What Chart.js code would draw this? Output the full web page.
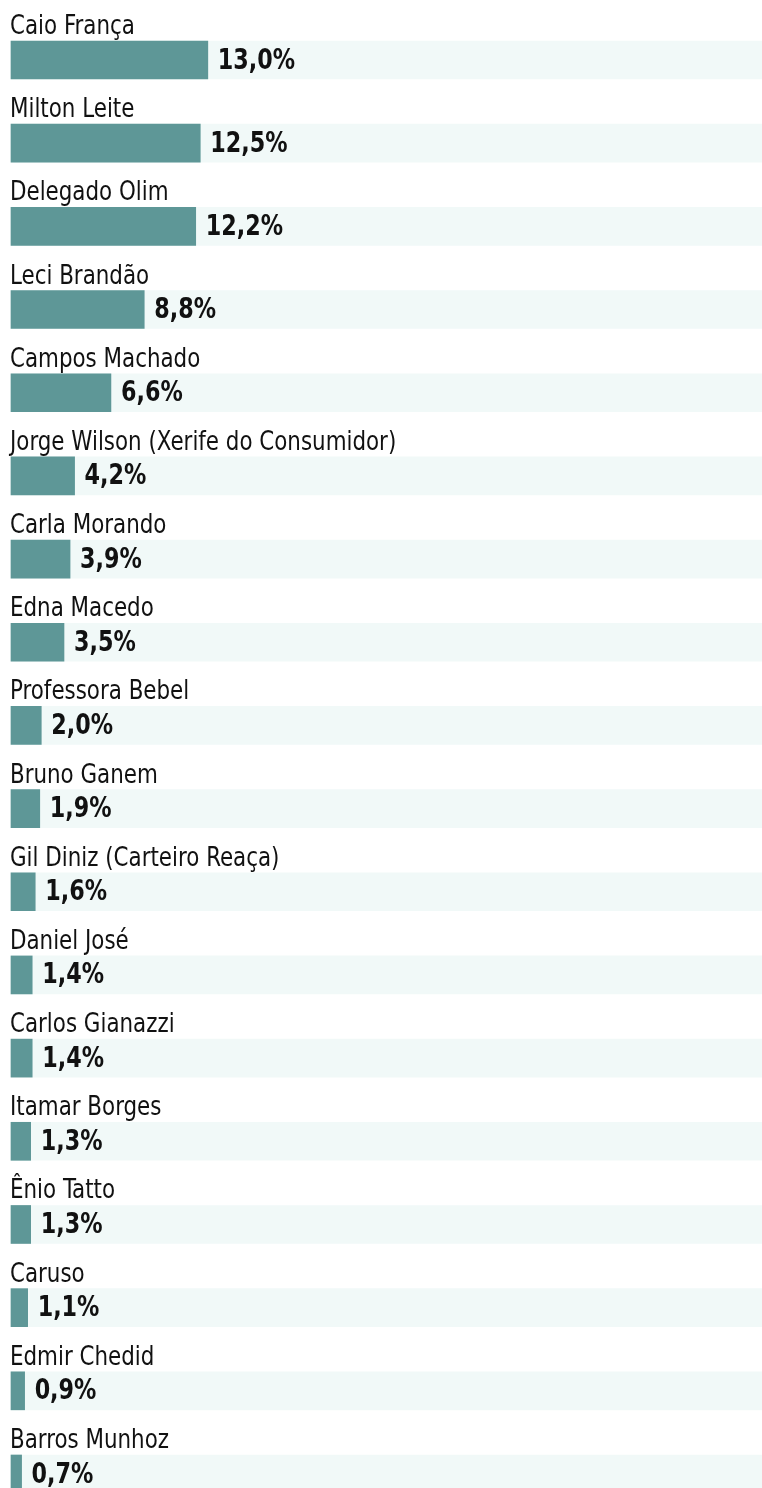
<!DOCTYPE html>
<html>
<head>
<meta charset="utf-8">
<script src="https://cdn.jsdelivr.net/npm/chart.js@4"></script>
<style>
  html, body { margin: 0; padding: 0; background: #fff; overflow: hidden; }
  #wrap { width: 762px; height: 1488px; position: relative; }
</style>
</head>
<body>
<div id="wrap"><canvas id="chart"></canvas></div>
<script>
// candidatos e percentuais
const candidates = [
  "Caio França", "Milton Leite", "Delegado Olim", "Leci Brandão", "Campos Machado",
  "Jorge Wilson (Xerife do Consumidor)", "Carla Morando", "Edna Macedo", "Professora Bebel",
  "Bruno Ganem", "Gil Diniz (Carteiro Reaça)", "Daniel José", "Carlos Gianazzi",
  "Itamar Borges", "Ênio Tatto", "Caruso", "Edmir Chedid", "Barros Munhoz"
];
const percents = [13.0, 12.5, 12.2, 8.8, 6.6, 4.2, 3.9, 3.5, 2.0, 1.9, 1.6, 1.4, 1.4, 1.3, 1.3, 1.1, 0.9, 0.7];
const axisMax = 49.6;
const trackValues = candidates.map(() => axisMax);

const BAR_COLOR = '#5e9797';
const TRACK_COLOR = '#f1f9f8';
const NAME_FONT = '26px "DejaVu Sans Condensed", sans-serif';
const VALUE_FONT = 'bold 27.5px "DejaVu Sans Condensed", sans-serif';

const fmt = v => v.toFixed(1).replace('.', ',') + '%';

// texto estreito (fonte condensada do original)
function narrowText(ctx, txt, x, y, sx) {
  ctx.save();
  ctx.translate(x, y);
  ctx.scale(sx, 1);
  ctx.fillText(txt, 0, 0);
  ctx.restore();
}

// nomes acima das barras + valores ao lado
const labelPlugin = {
  id: 'rowLabels',
  afterDatasetsDraw(chart) {
    const ctx = chart.ctx;
    const meta = chart.getDatasetMeta(0);
    ctx.save();
    ctx.fillStyle = '#111';
    ctx.textAlign = 'left';
    ctx.textBaseline = 'alphabetic';
    meta.data.forEach((bar, i) => {
      ctx.font = NAME_FONT;
      narrowText(ctx, candidates[i], chart.chartArea.left - 1, bar.y - 26, 0.915);
      ctx.font = VALUE_FONT;
      narrowText(ctx, fmt(percents[i]), bar.x + 10, bar.y + 8.5, 0.9);
    });
    ctx.restore();
  }
};

new Chart(document.getElementById('chart'), {
  type: 'bar',
  data: {
    labels: candidates,
    datasets: [
      { data: percents, backgroundColor: BAR_COLOR, barThickness: 38, grouped: false, clip: false, borderWidth: 0 },
      { data: trackValues, backgroundColor: TRACK_COLOR, barThickness: 38, grouped: false, clip: false, borderWidth: 0 }
    ]
  },
  options: {
    indexAxis: 'y',
    responsive: true,
    maintainAspectRatio: false,
    devicePixelRatio: 1,
    animation: false,
    layout: { padding: { left: 11, right: 0, top: 60, bottom: 14 } },
    scales: {
      x: { display: false, min: 0, max: axisMax },
      y: { display: false, offset: false }
    },
    plugins: { legend: { display: false }, tooltip: { enabled: false } }
  },
  plugins: [labelPlugin]
});
</script>
</body>
</html>
